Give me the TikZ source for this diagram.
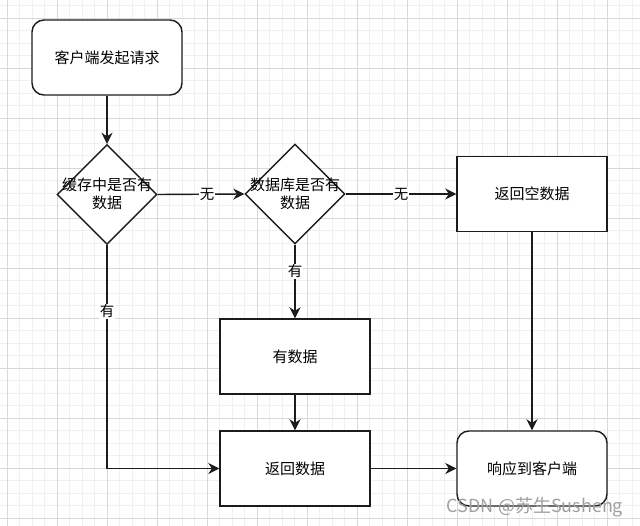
\documentclass[tikz,border=0pt]{standalone}
\usepackage{fontspec}
\setmainfont{Noto Sans CJK SC}
\usetikzlibrary{arrows.meta,shapes.geometric}
\definecolor{gridminor}{HTML}{F0F0F0}
\definecolor{gridmajor}{HTML}{D8D8D8}
\definecolor{wmgray}{HTML}{A0A0A0}
\definecolor{ink}{HTML}{1C1C1C}
\tikzset{
  base/.style={draw=ink, line width=1.4pt, fill=white, inner sep=0pt},
  procbox/.style={base, rectangle, minimum width=150pt, minimum height=75pt, font=\fontsize{15}{18}\selectfont, align=center},
  roundbox/.style={procbox, rounded corners=12pt},
  decision/.style={base, diamond, minimum width=100pt, minimum height=100pt, aspect=1},
  dtext/.style={font=\fontsize{15}{18}\selectfont, align=center, inner sep=0pt},
  elabel/.style={fill=white, inner sep=1pt, font=\fontsize{14.5}{17}\selectfont},
  arr/.style={draw=ink, line width=1.4pt, -{Stealth[length=11pt,width=11pt,inset=3.5pt]}},
  gminor/.style={draw=gridminor, line width=0.9pt},
  gmajor/.style={draw=gridmajor, line width=0.9pt}
}
\begin{document}
\begin{tikzpicture}[x=1pt,y=-1pt]
\fill[white] (0,0) rectangle (640,526);
\useasboundingbox (0,0) rectangle (640,526);
% grid
\foreach \k in {0,...,50} \draw[gminor] ({7.3+12.5*\k},0) -- ++(0,526);
\foreach \k in {0,...,41} \draw[gminor] (0,{5.8+12.5*\k}) -- ++(640,0);
\foreach \k in {0,...,12} \draw[gmajor] ({7.3+50*\k},0) -- ++(0,526);
\foreach \k in {0,...,10} \draw[gmajor] (0,{18.3+50*\k}) -- ++(640,0);

% nodes
\node[roundbox] (start) at (107,57.5) {客户端发起请求};
\node[decision] (d1) at (107,194.5) {};
\node[dtext] (d1t) at (107,194) {缓存中是否有\\数据};
\node[decision] (d2) at (295,194) {};
\node[dtext] (d2t) at (295,193.5) {数据库是否有\\数据};
\node[procbox] (empty) at (532,194) {返回空数据};
\node[procbox] (has) at (295,356.5) {有数据};
\node[procbox] (ret) at (295,468.5) {返回数据};
\node[roundbox] (resp) at (532,468.5) {响应到客户端};

% edges
\draw[arr] (start) -- (d1);
\draw[arr] (d1.east) -- (d2.west) node[elabel, pos=0.57] {无};
\draw[arr] (d2.east) -- (empty.west) node[elabel, pos=0.5] {无};
\draw[arr] (d2.south) -- (has.north) node[elabel, pos=0.36] {有};
\draw[arr] (d1.south) |- (ret.west) node[elabel, pos=0.148] {有};
\draw[arr] (has) -- (ret);
\draw[arr] (ret) -- (resp);
\draw[arr] (empty) -- (resp);

% watermark
\node[text=wmgray, font=\fontsize{18}{20}\selectfont, inner sep=0pt] (wm) at (535,507) {CSDN @苏生Susheng};
\end{tikzpicture}
\end{document}
